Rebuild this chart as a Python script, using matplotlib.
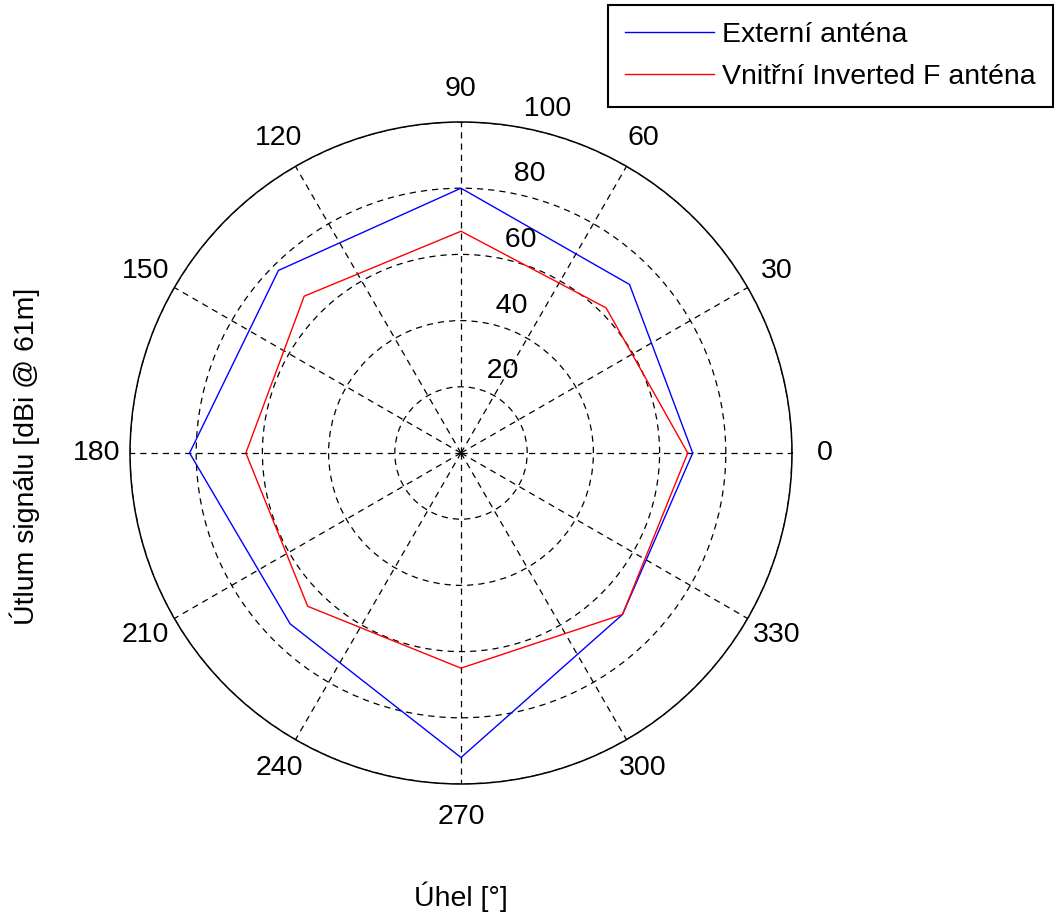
import matplotlib.pyplot as plt
import numpy as np

plt.rcParams['font.family'] = ['Liberation Sans', 'DejaVu Sans']

# measurement angles [deg] and signal levels for both antennas
uhly = [0, 45, 90, 135, 180, 225, 270, 315]
externi = [70, 72, 80, 78, 82, 73, 92, 69]
vnitrni = [68.5, 62, 67, 67, 65, 65.5, 65, 69]

r_ticks = [20, 40, 60, 80, 100]
theta_ticks = list(range(0, 360, 30))

fs = 20.5

fig = plt.figure(figsize=(10.6, 9.16), dpi=100)
ax = fig.add_axes([130 / 1060, 132 / 916, 662 / 1060, 662 / 916], projection='polar')

# close the polygons
th = np.deg2rad(uhly + [uhly[0]])
ext = externi + [externi[0]]
vni = vnitrni + [vnitrni[0]]

l1, = ax.plot(th, ext, color='#0000ff', lw=1.0, label='Externí anténa')
l2, = ax.plot(th, vni, color='#ff0000', lw=1.0, label='Vnitřní Inverted F anténa')

ax.set_ylim(0, 100)
ax.set_yticks(r_ticks)
ax.set_yticklabels([])
ax.set_xticks(np.deg2rad(theta_ticks))
ax.set_xticklabels([])
ax.grid(True, color='black', linestyle=(0, (5, 4)), linewidth=0.9)
ax.spines['polar'].set_linewidth(1.1)
ax.spines['polar'].set_color('black')

# angle labels outside the circle
for t in theta_ticks:
    ax.text(np.deg2rad(t), 110, str(t), ha='center', va='center',
            fontsize=fs, clip_on=False)

# radius labels along the 82 degree direction
a82 = np.deg2rad(82)
for r in r_ticks:
    rr = r + 1
    ax.text(a82, rr, '  ' + str(r), ha='left', va='bottom',
            fontsize=fs, clip_on=False)

fig.text(461 / 1060, 1 - 897 / 916, 'Úhel [°]', ha='center', va='center', fontsize=fs)
fig.text(25 / 1060, 1 - 456 / 916, 'Útlum signálu [dBi @ 61m]', ha='center', va='center',
         rotation=90, fontsize=fs)

leg = fig.legend(handles=[l1, l2], loc='upper right', bbox_to_anchor=(1053 / 1060, 1 - 5 / 916),
                 fontsize=fs, handlelength=3.1, handletextpad=0.3, labelspacing=0.55,
                 borderpad=0.6, borderaxespad=0, fancybox=False, framealpha=1)
leg.get_frame().set_edgecolor('black')
leg.get_frame().set_linewidth(1.5)

fig.savefig('out.png', dpi=100)
